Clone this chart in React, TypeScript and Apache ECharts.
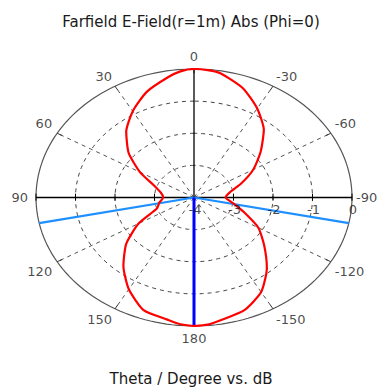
import React, { useEffect, useRef } from "react";
import * as echarts from "echarts";

// ---- data ----
const thetaDeg = [
  -180, -175, -170, -160, -150, -140, -130, -120, -110, -100, -90, -80, -70, -60, -50, -40, -30, -20, -10, -5,
  0, 5, 10, 20, 30, 40, 50, 60, 70, 80, 90, 100, 110, 120, 130, 140, 150, 160, 170, 175, 180,
];
const gainDb = [
  0, -0.03, -0.12, -0.27, -0.6, -1.13, -1.68, -2.12, -2.65, -3.0, -3.2, -3.08, -2.73, -2.27, -1.8, -1.25, -0.8, -0.38, -0.08, -0.02,
  0, -0.06, -0.2, -0.5, -0.9, -1.33, -1.84, -2.42, -2.93, -3.15, -3.22, -3.11, -3.0, -2.38, -1.76, -1.22, -0.7, -0.27, -0.14, -0.04, 0,
];
const angleTickDeg = [0, 30, 60, 90, 120, 150, 180, -150, -120, -90, -60, -30];
const spokeDeg = [30, 60, 120, 150, -30, -60, -120, -150];
const radialTickDb = [-4, -3, -2, -1, 0];
const ringDb = [-3, -2, -1];
const markerDeg = [101.5, -101.5];
const mainLobeDeg = [180];
const dbMin = -4;
const dbMax = 0;
const titleText = "Farfield E-Field(r=1m) Abs (Phi=0)";
const axisTitleText = "Theta / Degree vs. dB";

// ---- helpers ----
function toXY(deg: number, db: number): number[] {
  const rho = (db - dbMin) / (dbMax - dbMin);
  const t = (deg * Math.PI) / 180;
  return [-rho * Math.sin(t), rho * Math.cos(t)];
}

const FONT = "DejaVu Sans";

// label layout per angle: [dx, dy, align]
const angleLabelLayout: Record<string, [number, number, string]> = {
  "0": [0, -12, "center"],
  "30": [-3, -10, "right"],
  "60": [-5, -10, "right"],
  "90": [-8, 0, "right"],
  "120": [-5, 10, "right"],
  "150": [-3, 11, "right"],
  "180": [0, 13, "center"],
  "-30": [3, -10, "left"],
  "-60": [4, -10, "left"],
  "-90": [4, 0, "left"],
  "-120": [4, 10, "left"],
  "-150": [3, 11, "left"],
};

function lineSeries(data: any[], lineStyle: any, z: number, smooth: number | boolean = false) {
  return {
    type: "line",
    data,
    symbol: "none",
    silent: true,
    animation: false,
    z,
    smooth,
    lineStyle,
  };
}

export default function App() {
  const ref = useRef<HTMLDivElement>(null);
  useEffect(() => {
    if (!ref.current) return;
    const chart = echarts.init(ref.current, undefined, { renderer: "svg" });
    const series: any[] = [];

    // dashed rings
    ringDb.forEach((db) => {
      const pts: number[][] = [];
      for (let a = 0; a <= 360; a += 2) pts.push(toXY(a, db));
      series.push(lineSeries(pts, { color: "#444", width: 1, type: [4, 4] }, 1));
    });
    // outer ring
    {
      const pts: number[][] = [];
      for (let a = 0; a <= 360; a += 2) pts.push(toXY(a, dbMax));
      series.push(lineSeries(pts, { color: "#555", width: 1.2 }, 2));
    }
    // dashed spokes
    spokeDeg.forEach((a) => {
      series.push(lineSeries([toXY(a, dbMin), toXY(a, dbMax)], { color: "#555", width: 1, type: [4, 4] }, 1));
    });
    // ring tick marks
    angleTickDeg.forEach((a) => {
      series.push(lineSeries([toXY(a, dbMax - 0.14), toXY(a, dbMax)], { color: "#333", width: 1 }, 2));
    });
    // solid axes
    series.push(lineSeries([toXY(90, dbMax), toXY(-90, dbMax)], { color: "#000", width: 1.3 }, 3));
    series.push(lineSeries([toXY(0, dbMin), toXY(0, dbMax)], { color: "#000", width: 1.3 }, 3));
    // radial ticks on horizontal axis
    radialTickDb.slice(1).forEach((db) => {
      [90, -90].forEach((a) => {
        const p = toXY(a, db);
        series.push(lineSeries([[p[0], -0.025], [p[0], 0.03]], { color: "#000", width: 1 }, 3));
      });
    });
    // marker lines
    markerDeg.forEach((a) => {
      series.push(lineSeries([toXY(a, dbMin), toXY(a, dbMax)], { color: "#1e8fff", width: 2.2 }, 4));
    });
    mainLobeDeg.forEach((a) => {
      series.push(lineSeries([toXY(a, dbMin), toXY(a, dbMax)], { color: "#0000ff", width: 3 }, 5));
    });
    // red pattern
    series.push(
      lineSeries(
        thetaDeg.map((t, i) => toXY(t, gainDb[i])),
        { color: "#ff0000", width: 2.2 },
        6,
        0.2
      )
    );

    // angle labels
    series.push({
      type: "scatter",
      silent: true,
      animation: false,
      symbolSize: 0.01,
      itemStyle: { color: "transparent" },
      z: 7,
      data: angleTickDeg.map((a) => {
        const lay = angleLabelLayout[String(a)];
        return {
          value: toXY(a, dbMax),
          label: {
            show: true,
            formatter: String(a),
            position: [lay[0], lay[1]],
            align: lay[2],
            verticalAlign: "middle",
            fontSize: 13,
            fontFamily: FONT,
            color: "#1a1a1a",
          },
        };
      }),
    });
    // radial labels
    series.push({
      type: "scatter",
      silent: true,
      animation: false,
      symbolSize: 0.01,
      itemStyle: { color: "transparent" },
      z: 7,
      data: radialTickDb.map((db) => ({
        value: toXY(-90, db),
        label: {
          show: true,
          formatter: String(db),
          position: [1, 12],
          align: "center",
          verticalAlign: "middle",
          fontSize: 13,
          fontFamily: FONT,
          color: "#1a1a1a",
        },
      })),
    });

    chart.setOption({
      animation: false,
      backgroundColor: "#fff",
      title: [
        {
          text: titleText,
          left: "center",
          top: 9,
          textStyle: { fontSize: 15, fontWeight: "normal", fontFamily: FONT, color: "#1a1a1a" },
        },
        {
          text: axisTitleText,
          left: "center",
          top: 366,
          textStyle: { fontSize: 15, fontWeight: "normal", fontFamily: FONT, color: "#1a1a1a" },
        },
      ],
      grid: { left: 36, right: 30, top: 69, bottom: 62 },
      xAxis: { type: "value", min: -1, max: 1, show: false },
      yAxis: { type: "value", min: -1, max: 1, show: false },
      series,
    });
    return () => chart.dispose();
  }, []);
  return <div ref={ref} style={{ width: 382, height: 388, position: "absolute", left: 0, top: 0 }} />;
}
